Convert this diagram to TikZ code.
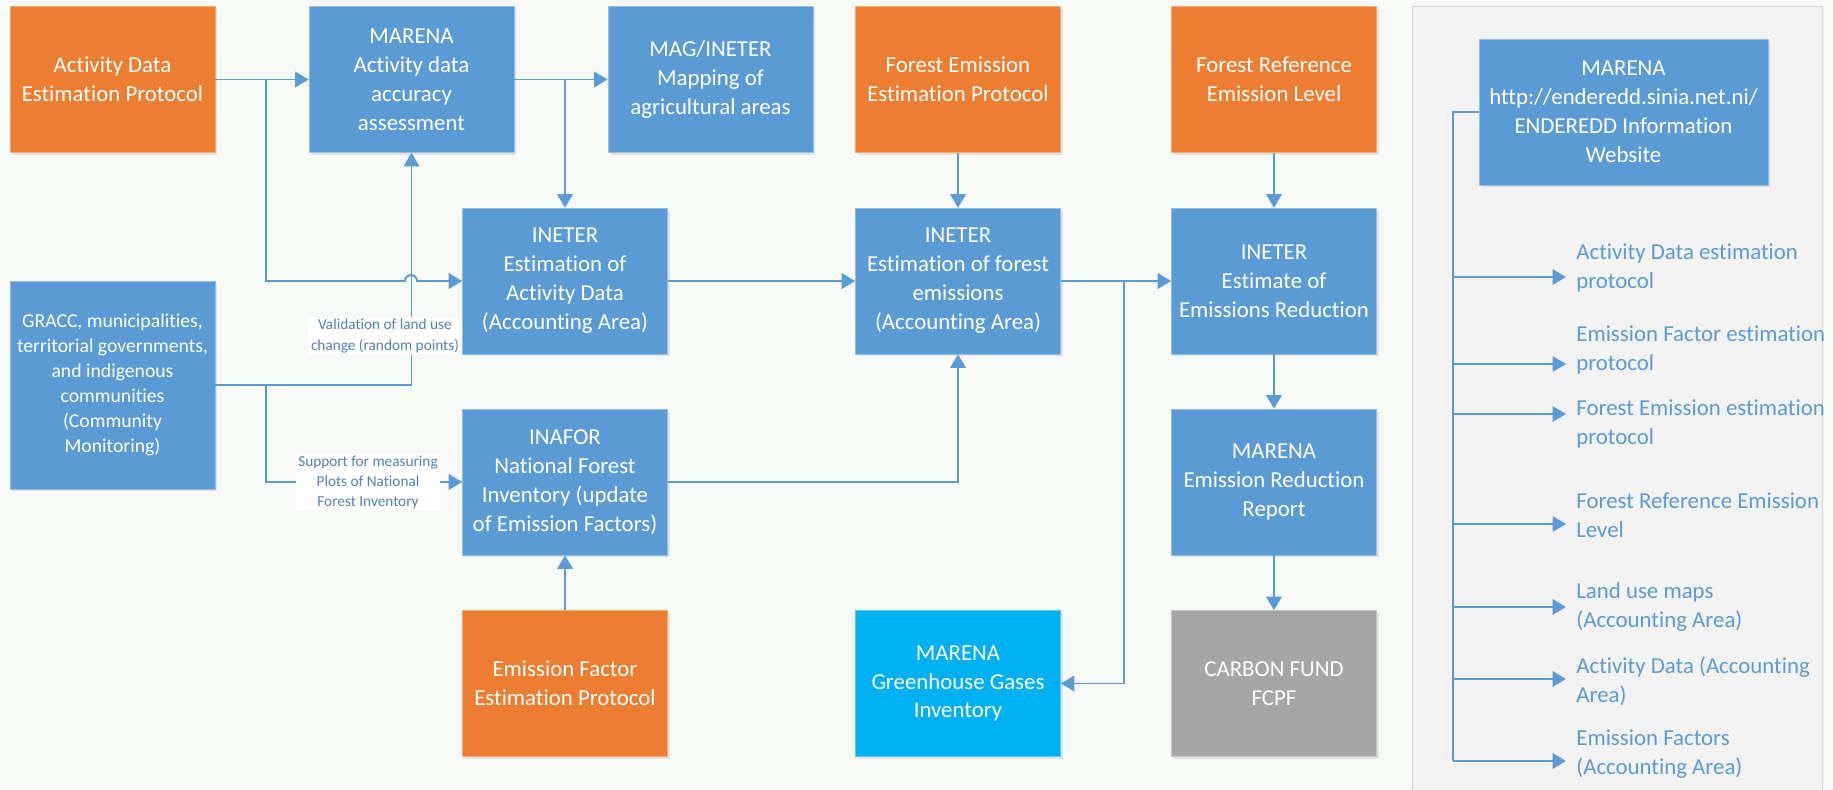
\documentclass[tikz,border=0pt]{standalone}
\usepackage{fontspec}
\setmainfont{Carlito}[Ligatures={NoCommon}]
\usetikzlibrary{arrows.meta,shadows}
\definecolor{boxblue}{HTML}{5B9BD5}
\definecolor{boxorange}{HTML}{ED7D31}
\definecolor{boxcyan}{HTML}{00B0F0}
\definecolor{boxgrey}{HTML}{A5A5A5}
\definecolor{linkblue}{HTML}{5B9BD5}
\definecolor{labelblue}{HTML}{4F81BD}
\definecolor{panelgrey}{HTML}{F2F2F2}
\definecolor{pageback}{HTML}{F7F9F7}
\tikzset{
  unitbox/.style={minimum width=4.1cm, minimum height=2.92cm, align=center, text=white,
    font=\fontsize{13}{16.5}\selectfont, line width=0.4pt,
    drop shadow={shadow xshift=0.05cm, shadow yshift=-0.05cm, opacity=0.18}},
  bluebox/.style={unitbox, fill=boxblue, draw=boxblue!65!white},
  orangebox/.style={unitbox, fill=boxorange, draw=boxorange!65!white},
  cyanbox/.style={unitbox, fill=boxcyan, draw=boxcyan!65!white},
  greybox/.style={unitbox, fill=boxgrey, draw=boxgrey!65!white},
  wire/.style={draw=linkblue, line width=1.1pt},
  link/.style={wire, -{Triangle[length=0.27cm, width=0.31cm]}},
  edgelabel/.style={fill=white, text=labelblue, align=center, inner sep=1.5pt,
    font=\fontsize{8.7}{11.4}\selectfont},
  weblink/.style={anchor=west, align=left, text=linkblue, inner xsep=0.2cm, inner ysep=0pt,
    font=\fontsize{13}{16.5}\selectfont}
}
\begin{document}
\begin{tikzpicture}[x=0.02cm, y=-0.02cm]
\useasboundingbox (0,0) rectangle (1833,789);
\fill[pageback] (0,0) rectangle (1833,789);
% side panel
\filldraw[fill=panelgrey, draw=gray!35] (1412,6) rectangle (1822,800);

% top row
\node[orangebox] (adp) at (112.5,79.5) {Activity Data\\Estimation Protocol};
\node[bluebox] (acc) at (411.5,79.5) {MARENA\\Activity data\\accuracy\\assessment};
\node[bluebox] (mag) at (710.5,79.5) {MAG/INETER\\Mapping of\\agricultural areas};
\node[orangebox] (fep) at (958,79.5) {Forest Emission\\Estimation Protocol};
\node[orangebox] (frel) at (1274,79.5) {Forest Reference\\Emission Level};
% middle row
\node[bluebox] (iad) at (565,281) {INETER\\Estimation of\\Activity Data\\(Accounting Area)};
\node[bluebox] (ife) at (958,281) {INETER\\Estimation of forest\\emissions\\(Accounting Area)};
\node[bluebox] (ier) at (1274,281) {INETER\\Estimate of\\Emissions Reduction};
\node[bluebox, minimum height=4.16cm, font=\fontsize{11.2}{14.2}\selectfont] (gracc) at (112.5,385) {GRACC, municipalities,\\territorial governments,\\and indigenous\\communities\\(Community\\Monitoring)};
\node[bluebox] (inafor) at (565,482) {INAFOR\\National Forest\\Inventory (update\\of Emission Factors)};
\node[bluebox] (rep) at (1274,482) {MARENA\\Emission Reduction\\Report};
% bottom row
\node[orangebox] (efp) at (565,683.5) {Emission Factor\\Estimation Protocol};
\node[cyanbox] (ghg) at (958,683.5) {MARENA\\Greenhouse Gases\\Inventory};
\node[greybox] (cf) at (1274,683.5) {CARBON FUND\\FCPF};
\node[bluebox, minimum width=5.78cm] (web) at (1623.5,112) {MARENA\\http://enderedd.sinia.net.ni/\\ENDEREDD Information\\Website};

% forks
\coordinate (adpfork) at (266,79.5);
\coordinate (accfork) at (565,79.5);
\coordinate (graccfork) at (266,385);
\coordinate (ifefork) at (1124,281);
\coordinate (trunkend) at (1453,761);

\draw[link] (adp) -- (acc);
\draw[link] (acc) -- (mag);
\draw[link] (accfork) -- (iad);
\draw[link] (adpfork) -- (266,281) -- (405,281) arc[start angle=180, end angle=0, radius=0.12cm] -- (iad.west);
\draw[link] (gracc.east) -| (acc.south);
\node[edgelabel] (vallab) at (385,336) {Validation of land use\\change (random points)};
\draw[link] (graccfork) |- (inafor.west);
\node[edgelabel] (plotlab) at (368,482) {Support for measuring\\Plots of National\\Forest Inventory};
\draw[link] (efp) -- (inafor);
\draw[link] (iad) -- (ife);
\draw[link] (inafor.east) -| (ife.south);
\draw[link] (fep) -- (ife);
\draw[link] (ife) -- (ier);
\draw[link] (ifefork) |- (ghg.east);
\draw[link] (frel) -- (ier);
\draw[link] (ier) -- (rep);
\draw[link] (rep) -- (cf);

% website contents
\draw[wire] (web.west) -| (trunkend);
\foreach \ay/\ty/\txt [count=\k] in {
  277/268/{Activity Data estimation\\protocol},
  364/350/{Emission Factor estimation\\protocol},
  414/424/{Forest Emission estimation\\protocol},
  524/515/{Forest Reference Emission\\Level},
  607/607/{Land use maps\\(Accounting Area)},
  679/681/{Activity Data (Accounting\\Area)},
  761/754/{Emission Factors\\(Accounting Area)}}{
  \node[weblink] (item\k) at (1566,\ty) {\txt};
  \draw[link] (1453,\ay) -- (item\k.west |- 0,\ay);
}
\end{tikzpicture}
\end{document}
